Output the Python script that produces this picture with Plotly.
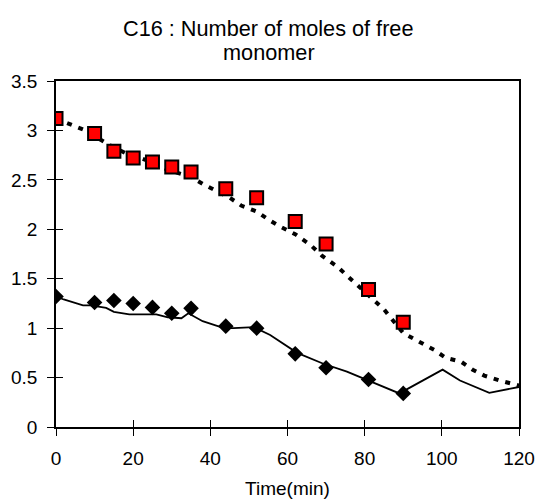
import plotly.graph_objects as go

# Experimental data (squares: red series, diamonds: black series)
t_exp_sq = [0, 10, 15, 20, 25, 30, 35, 44, 52, 62, 70, 81, 90]
y_exp_sq = [3.12, 2.97, 2.79, 2.72, 2.68, 2.63, 2.58, 2.41, 2.32, 2.08, 1.85, 1.39, 1.06]

t_exp_dia = [0, 10, 15, 20, 25, 30, 35, 44, 52, 62, 70, 81, 90]
y_exp_dia = [1.32, 1.26, 1.28, 1.25, 1.21, 1.15, 1.20, 1.02, 1.00, 0.74, 0.60, 0.48, 0.34]

# Model curves
t_mod_dot = [0, 4, 7, 14, 18, 22, 26, 29, 32, 35, 38, 41, 45, 48, 52, 55, 58, 62, 66, 69, 73, 76,
             79, 85, 90, 94, 98, 101, 105, 108, 111, 115, 118, 120]
y_mod_dot = [3.12, 3.06, 3.01, 2.85, 2.77, 2.72, 2.66, 2.60, 2.57, 2.53, 2.46, 2.40, 2.32, 2.24,
             2.18, 2.10, 2.03, 1.95, 1.84, 1.73, 1.62, 1.51, 1.40, 1.19, 0.95, 0.86, 0.78, 0.70,
             0.66, 0.58, 0.52, 0.47, 0.445, 0.42]

t_mod_sol = [0, 2, 7, 9, 13, 15, 19, 26, 29, 32.5, 34.3, 38, 43.5, 46, 51.3, 55.5, 62.5, 69.3,
             75.4, 81, 89, 100.2, 104.7, 112.3, 120]
y_mod_sol = [1.32, 1.29, 1.23, 1.23, 1.205, 1.165, 1.14, 1.14, 1.11, 1.10, 1.15, 1.07, 1.0, 1.0,
             1.01, 0.93, 0.75, 0.64, 0.56, 0.47, 0.34, 0.58, 0.47, 0.345, 0.405]

x_ticks = [0, 20, 40, 60, 80, 100, 120]
y_ticks = [0, 0.5, 1, 1.5, 2, 2.5, 3, 3.5]
y_tick_text = ["0", "0.5", "1", "1.5", "2", "2.5", "3", "3.5"]

title_lines = ["C16 : Number of moles of free", "monomer"]

FONT = "Liberation Sans, Arial, sans-serif"

fig = go.Figure()
fig.add_trace(go.Scatter(x=t_mod_dot, y=y_mod_dot, mode="lines",
                         line=dict(color="black", width=4, dash="5px,7px"), hoverinfo="skip"))
fig.add_trace(go.Scatter(x=t_mod_sol, y=y_mod_sol, mode="lines",
                         line=dict(color="black", width=1.8), hoverinfo="skip"))
fig.add_trace(go.Scatter(x=t_exp_dia, y=y_exp_dia, mode="markers",
                         marker=dict(symbol="diamond", size=12, color="black")))
fig.add_trace(go.Scatter(x=t_exp_sq, y=y_exp_sq, mode="markers",
                         marker=dict(symbol="square", size=13, color="#ff0000",
                                     line=dict(color="black", width=2))))
# invisible trace on overlay axes to get crossing ticks
fig.add_trace(go.Scatter(x=[0], y=[0], xaxis="x2", yaxis="y2", mode="markers",
                         marker=dict(opacity=0), hoverinfo="skip"))

for txt, ypos in zip(title_lines, [1.153, 1.081]):
    fig.add_annotation(text=txt, xref="paper", yref="paper", x=0.46, y=ypos,
                       xanchor="center", yanchor="middle", showarrow=False,
                       font=dict(size=21.7, family=FONT, color="black"))

fig.update_layout(
    width=538, height=504,
    paper_bgcolor="white", plot_bgcolor="white",
    showlegend=False,
    margin=dict(l=56, r=19, t=81, b=77, autoexpand=False),
    font=dict(family=FONT, color="black", size=19),
    xaxis=dict(range=[0, 120], tickvals=x_ticks, showgrid=False, zeroline=False,
               showline=True, linecolor="black", linewidth=1.5, mirror=True, automargin=False,
               ticks="outside", ticklen=7, tickcolor="black", tickwidth=1.2,
               ticklabelstandoff=6,
               tickfont=dict(size=19), title=dict(text="Time(min)", font=dict(size=19), standoff=14)),
    yaxis=dict(range=[0, 3.5], tickvals=y_ticks, ticktext=y_tick_text, showgrid=False,
               zeroline=False, showline=True, linecolor="black", linewidth=1.5, mirror=True,
               automargin=False, ticks="outside", ticklen=7, tickcolor="black", tickwidth=1.2,
               ticklabelstandoff=6, tickfont=dict(size=19)),
    xaxis2=dict(range=[0, 120], overlaying="x", tickvals=x_ticks, showticklabels=False,
                showgrid=False, zeroline=False, ticks="inside", ticklen=7, tickcolor="black",
                tickwidth=1.2, side="bottom", automargin=False),
    yaxis2=dict(range=[0, 3.5], overlaying="y", tickvals=y_ticks, showticklabels=False,
                showgrid=False, zeroline=False, ticks="inside", ticklen=7, tickcolor="black",
                tickwidth=1.2, side="left", automargin=False),
)

fig.write_html("out.html", config={"displayModeBar": False},
               post_script="document.body.style.margin='0px';document.body.style.overflow='hidden';")
